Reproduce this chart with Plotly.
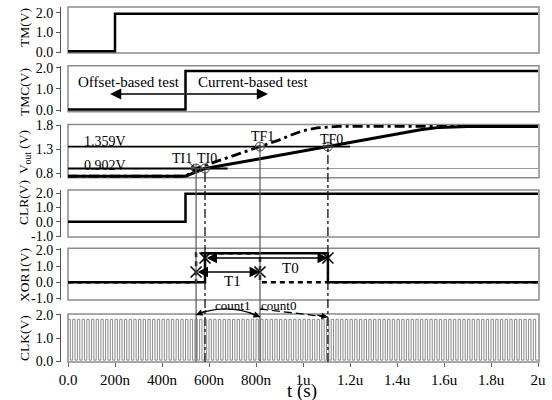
import plotly.graph_objects as go
from plotly.subplots import make_subplots

# ---------------- data (time in ns) ----------------
tm_t = [0, 200, 200, 2000]
tm_v = [0.05, 0.05, 1.95, 1.95]

tmc_t = [0, 500, 500, 2000]
tmc_v = [0.02, 0.02, 1.85, 1.85]

vout0_t = [0, 500, 540, 583, 800, 1106, 1300, 1420, 1500, 1580, 1700, 2000]
vout0_v = [0.74, 0.74, 0.82, 0.902, 1.09, 1.359, 1.53, 1.63, 1.71, 1.76, 1.78, 1.78]
vout1_t = [0, 500, 545, 817, 900, 950, 1000, 1060, 1150, 2000]
vout1_v = [0.74, 0.74, 0.902, 1.359, 1.50, 1.60, 1.69, 1.75, 1.78, 1.78]

v_high_th = 1.359
v_low_th = 0.902
t_i1, t_i0, t_f1, t_f0 = 545, 583, 817, 1106

clr_t = [0, 500, 500, 2000]
clr_v = [0.0, 0.0, 1.95, 1.95]

xor0_t = [0, 583, 583, 1106, 1106, 2000]
xor0_v = [0, 0, 1.8, 1.8, 0, 0]
xor1_t = [0, 545, 545, 817, 817, 2000]
xor1_v = [0, 0, 1.8, 1.8, 0, 0]

clk_period = 20  # ns
clk_hi, clk_lo = 1.8, 0.05

x_tickvals = [0, 200, 400, 600, 800, 1000, 1200, 1400, 1600, 1800, 2000]
x_ticktext = ["0.0", "200n", "400n", "600n", "800n", "1u", "1.2u", "1.4u", "1.6u", "1.8u", "2u"]

y_titles = ["TM(V)", "TMC(V)", "V<sub>out</sub> (V)", "CLR(V)", "XOR1(V)", "CLK(V)"]

# ---------------- clock waveform ----------------
clk_t, clk_v = [], []
t = 0
while t < 2000:
    h = t + clk_period / 2
    clk_t += [t, h, h, t + clk_period]
    clk_v += [clk_hi, clk_hi, clk_lo, clk_lo]
    t += clk_period

# ---------------- layout geometry ----------------
W, H = 552, 400
ML, MR, MT, MB = 60, 13, 7, 38
PW, PH = W - ML - MR, H - MT - MB
x_dom0 = 8 / PW
TXT_SHIFT = -3  # px, nudges text annotations down

def py(ypx):
    return (H - MB - ypx) / PH

def px(xpx):
    return (xpx - ML) / PW

panel_px = [(7, 53), (65.7, 111.7), (124.5, 177.7), (190, 237), (248.3, 300), (314, 362)]
domains = [[py(b), py(a)] for a, b in panel_px]
domains[-1][0] = 0.0
domains[0][1] = 1.0
title_centers_px = [28, 92, 152, 203, 275, 338]

y_ranges = [[-0.035, 2.29], [-0.08, 2.1], [0.71, 1.82], [-1.07, 2.21], [-1.1, 2.1], [-0.03, 2.03]]
y_ticks = [[0, 1, 2], [0, 1, 2], [0.8, 1.3, 1.8], [-1, 0, 1, 2], [-1, 0, 1, 2], [0, 1, 2]]
y_ticktext = [["0.0", "1.0", "2.0"], ["0.0", "1.0", "2.0"], ["0.8", "1.3", "1.8"],
              ["-1.0", "0.0", "1.0", "2.0"], ["-1.0", "0.0", "1.0", "2.0"], ["0.0", "1.0", "2.0"]]
x_range = [0, 2000 * 471 / 470]

def paper_y(panel, v):
    r0, r1 = y_ranges[panel]
    d0, d1 = domains[panel]
    return d0 + (v - r0) / (r1 - r0) * (d1 - d0)

FONT = "Liberation Serif"
BLACK = "#000000"

fig = make_subplots(rows=6, cols=1, shared_xaxes=True, vertical_spacing=0.01)

def line(x, y, row, color=BLACK, width=2.5, dash="solid"):
    fig.add_trace(go.Scatter(x=x, y=y, mode="lines", line=dict(color=color, width=width, dash=dash),
                             showlegend=False, hoverinfo="skip"), row=row, col=1)

line(tm_t, tm_v, 1)
line(tmc_t, tmc_v, 2)

# Vout threshold lines
line([0, 1200], [v_high_th, v_high_th], 3, width=1.8)
line([1200, 2000], [v_high_th, v_high_th], 3, color="#9a9a9a", width=1.2)
line([0, 680], [v_low_th, v_low_th], 3, width=1.8)
line([680, 2000], [v_low_th, v_low_th], 3, color="#9a9a9a", width=1.2)
line(vout0_t, vout0_v, 3, width=3)
line(vout1_t, vout1_v, 3, width=2.8, dash="10px,4px,3px,4px")
fig.add_trace(go.Scatter(x=[t_i1, t_i0, t_f1, t_f0], y=[v_low_th, v_low_th, v_high_th, v_high_th],
                         mode="markers", marker=dict(symbol="circle-cross-open", size=9,
                                                     color="#444", line=dict(width=1)),
                         showlegend=False, hoverinfo="skip"), row=3, col=1)

line(clr_t, clr_v, 4)

line(xor1_t, xor1_v, 5, width=2.5, dash="5px,4px")
line(xor0_t, xor0_v, 5, width=2.5)
fig.add_trace(go.Scatter(x=[t_i1, t_f1, t_i0, t_f0], y=[0.63, 0.63, 1.5, 1.5],
                         mode="markers", marker=dict(symbol="x-thin-open", size=11,
                                                     color=BLACK, line=dict(width=1.6, color=BLACK)),
                         showlegend=False, hoverinfo="skip"), row=5, col=1)

line(clk_t, clk_v, 6, color="#8a8a8a", width=1)

# ---------------- axes ----------------
for i in range(6):
    n = "" if i == 0 else str(i + 1)
    fig.update_layout({
        f"yaxis{n}": dict(domain=domains[i], range=y_ranges[i], tickvals=y_ticks[i], ticktext=y_ticktext[i],
                          anchor="free", position=0, showline=True, linecolor="#555", linewidth=1,
                          ticks="outside", ticklen=4, tickcolor="#555", showgrid=False, zeroline=False,
                          automargin=False,
                          tickfont=dict(family=FONT, size=14, color=BLACK), fixedrange=True),
        f"xaxis{n}": dict(domain=[x_dom0, 1], range=x_range, showgrid=False, zeroline=False,
                          showline=False, showticklabels=(i == 5), ticks=("outside" if i == 5 else ""),
                          tickvals=x_tickvals, ticktext=x_ticktext, ticklen=4, tickcolor="#666",
                          automargin=False,
                          tickfont=dict(family=FONT, size=15, color=BLACK)),
    })

shapes = []
for i in range(6):
    n = "" if i == 0 else str(i + 1)
    shapes.append(dict(type="rect", xref=f"x{n} domain", yref=f"y{n} domain", x0=0, x1=1, y0=0, y1=1,
                       line=dict(color="#8c8c8c", width=1.5), layer="below"))

# vertical marker lines spanning from Vout panel down to CLK panel
for tt, vv, col, dash, w in [(t_i1, v_low_th, "#555", "solid", 1.2), (t_f1, v_high_th, "#555", "solid", 1.2),
                             (t_i0, v_low_th, "#111", "dashdot", 1.3), (t_f0, v_high_th, "#111", "dashdot", 1.3)]:
    shapes.append(dict(type="line", xref="x6", yref="paper", x0=tt, x1=tt, y0=0, y1=paper_y(2, vv),
                       line=dict(color=col, width=w, dash=dash)))

# count arcs
y_l, y_r, y_apex = py(315), py(317), py(309)
ctrl = 2 * y_apex - (y_l + y_r) / 2
shapes.append(dict(type="path", xref="x6", yref="paper",
                   path=f"M {t_i1},{y_l} Q {(t_i1 + t_f1) / 2},{ctrl} {t_f1},{y_r}",
                   line=dict(color=BLACK, width=1.3)))
shapes.append(dict(type="line", xref="x6", yref="paper", x0=t_f1, x1=t_f0, y0=py(309), y1=py(317),
                   line=dict(color=BLACK, width=1.3, dash="8px,4px")))
fig.update_layout(shapes=shapes)

ann = []
def txt(x, y, s, xref, yref, size=14, xanchor="center", yshift=TXT_SHIFT, **kw):
    ann.append(dict(x=x, y=y, text=s, xref=xref, yref=yref, showarrow=False, xanchor=xanchor,
                    yanchor="middle", yshift=yshift, font=dict(family=FONT, size=size, color=BLACK), **kw))

# y titles
for i in range(6):
    txt(px(24), py(title_centers_px[i]), y_titles[i], "paper", "paper", size=13.5, textangle=-90, yshift=0)

# x title
txt(px(302), py(389), "t (s)", "paper", "paper", size=19, yshift=-2)

# panel 2 texts and arrows
txt(34, 1.47, "Offset-based test", "x2", "y2", size=15, xanchor="left")
txt(545, 1.47, "Current-based test", "x2", "y2", size=15, xanchor="left")
for tip in [179, 851]:
    ann.append(dict(x=tip, y=0.76, ax=500, ay=0.76, xref="x2", yref="y2", axref="x2", ayref="y2",
                    text="", showarrow=True, arrowhead=2, arrowsize=1.4, arrowwidth=1.6, arrowcolor=BLACK))

# Vout labels
txt(60, 1.52, "1.359V", "x3", "y3", size=14, xanchor="left")
txt(60, 1.02, "0.902V", "x3", "y3", size=14, xanchor="left")
txt(485, 1.18, "TI1", "x3", "y3", size=14)
txt(591, 1.18, "TI0", "x3", "y3", size=14)
txt(826, 1.64, "TF1", "x3", "y3", size=14)
txt(1123, 1.58, "TF0", "x3", "y3", size=14)
ann.append(dict(x=t_i1 - 4, y=0.915, ax=505, ay=1.06, xref="x3", yref="y3", axref="x3", ayref="y3",
                text="", showarrow=True, arrowhead=2, arrowsize=0.8, arrowwidth=1, arrowcolor="#333"))

# XOR arrows
ann.append(dict(x=t_f1, y=0.63, ax=t_i1, ay=0.63, xref="x5", yref="y5", axref="x5", ayref="y5",
                text="", showarrow=True, arrowhead=2, startarrowhead=2, arrowside="end+start",
                arrowsize=1.3, startarrowsize=1.3, arrowwidth=1.6, arrowcolor=BLACK))
ann.append(dict(x=t_f0, y=1.5, ax=t_i0, ay=1.5, xref="x5", yref="y5", axref="x5", ayref="y5",
                text="", showarrow=True, arrowhead=2, startarrowhead=2, arrowside="end+start",
                arrowsize=1.3, startarrowsize=1.3, arrowwidth=1.6, arrowcolor=BLACK))
txt(698, 0.26, "T1", "x5", "y5", size=15)
txt(945, 1.07, "T0", "x5", "y5", size=15)

# count labels and arrowheads
txt(700, py(304), "count1", "x6", "paper", size=13, yshift=-1)
txt(895, py(304), "count0", "x6", "paper", size=13, yshift=-1)
ann.append(dict(x=t_i1, y=y_l, ax=12, ay=-5, xref="x6", yref="paper", text="", showarrow=True,
                arrowhead=2, arrowsize=1, arrowwidth=1.3, arrowcolor=BLACK))
ann.append(dict(x=t_f1, y=y_r, ax=-12, ay=-5, xref="x6", yref="paper", text="", showarrow=True,
                arrowhead=2, arrowsize=1, arrowwidth=1.3, arrowcolor=BLACK))
ann.append(dict(x=t_f0, y=y_r, ax=-12, ay=-2, xref="x6", yref="paper", text="", showarrow=True,
                arrowhead=2, arrowsize=1, arrowwidth=1.3, arrowcolor=BLACK))

fig.update_layout(template="none", annotations=ann, width=W, height=H,
                  margin=dict(l=ML, r=MR, t=MT, b=MB, autoexpand=False),
                  paper_bgcolor="white", plot_bgcolor="white", showlegend=False,
                  font=dict(family=FONT, color=BLACK))

fig.write_html("out.html")
